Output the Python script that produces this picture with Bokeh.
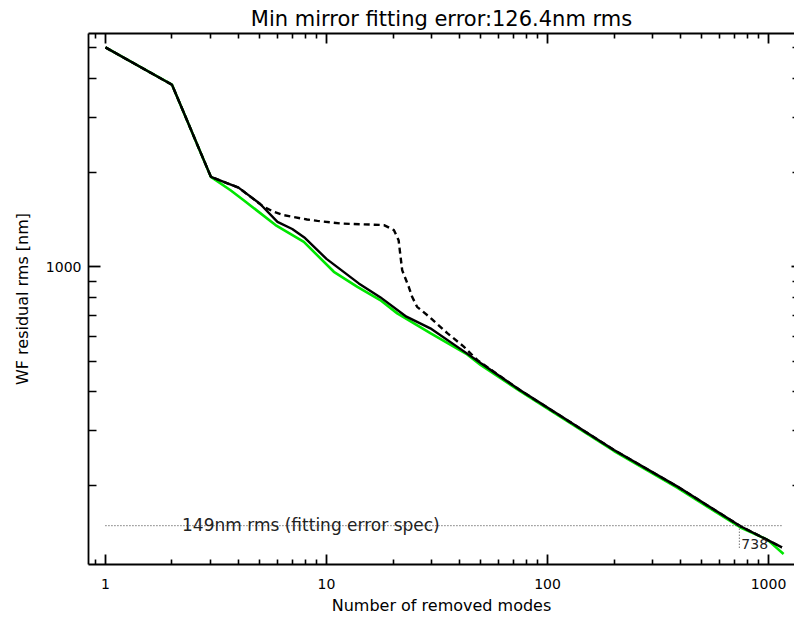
from bokeh.plotting import figure
from bokeh.models import LogAxis, FixedTicker, Range1d
from bokeh.embed import file_html
from bokeh.resources import INLINE
from bokeh.core.properties import value

# ---------------- data ----------------
modes_solid = [1, 2, 3, 4, 5, 6, 7, 8, 10, 14, 17.5, 23, 29.5, 43, 50, 75, 87, 200, 386, 747, 1150]
rms_solid = [5020, 3815, 1937, 1790, 1590, 1392, 1320, 1235, 1060, 885, 800, 693, 636, 530, 492, 404, 378, 260, 199, 148.4, 127]

modes_green = [1, 2, 3, 3.68, 4.22, 5.88, 7.9, 10.8, 13.8, 17.5, 20.9, 29.5, 43.3, 49.8, 75.5, 200, 386, 747, 987, 1170]
rms_green = [5020, 3815, 1937, 1756, 1632, 1359, 1201, 964, 863, 783, 710, 614, 525, 486, 400, 258, 197, 147, 134.5, 121]

modes_dashed = [1, 2, 3, 4, 5.2, 5.78, 6.4, 8.17, 9.1, 11.57, 18.2, 20.2, 21.2, 22.0, 23.6, 24.4, 25.7, 29.5, 35.2, 41.8, 48.1, 75, 200, 386, 747, 1150]
rms_dashed = [5020, 3815, 1937, 1790, 1554, 1498, 1462, 1416, 1402, 1375, 1359, 1309, 1216, 976, 860, 802, 745, 688, 614, 556, 504, 404, 260, 199, 148.4, 127]

spec_modes = [1, 1150]
spec_rms = [149, 149]
spec_text = ["149nm rms (fitting error spec)"]
spec_text_mode = [2.22]

cross_mode = 738
min_rms = 126.4
cross_modes = [cross_mode, cross_mode]
cross_rms = [149, min_rms]

x_major = [1, 10, 100, 1000]
x_labels = ["1", "10", "100", "1000"]
x_minor = [0.9, 2, 3, 4, 5, 6, 7, 8, 9, 20, 30, 40, 50, 60, 70, 80, 90,
           200, 300, 400, 500, 600, 700, 800, 900]
y_major = [1000]
y_labels = ["1000"]
y_minor = [200, 300, 400, 500, 600, 700, 800, 900, 2000, 3000, 4000, 5000]

title_text = "Min mirror fitting error:126.4nm rms"
x_title = "Number of removed modes"
y_title = "WF residual rms [nm]"

FONT = "DejaVu Sans"

p = figure(width=794, height=617, x_axis_type="log", y_axis_type="log",
           x_range=Range1d(0.838, 1311), y_range=Range1d(112, 5560),
           output_backend="svg", toolbar_location=None,
           min_border_left=88, min_border_right=0, min_border_top=33, min_border_bottom=52)

p.background_fill_color = "white"
p.border_fill_color = "white"
p.outline_line_color = None
p.xgrid.visible = False
p.ygrid.visible = False


def style_axis(ax, major, minor, labels, maj_len, min_len, show_labels):
    ax.ticker = FixedTicker(ticks=major, minor_ticks=minor)
    ax.major_tick_in = maj_len
    ax.major_tick_out = 0
    ax.minor_tick_in = min_len
    ax.minor_tick_out = 0
    ax.axis_line_color = "black"
    ax.axis_line_width = 1.8
    ax.major_tick_line_color = "black"
    ax.major_tick_line_width = 1.8
    ax.minor_tick_line_color = "black"
    ax.minor_tick_line_width = 1.6
    ax.major_label_overrides = dict(zip(major, labels))
    ax.major_label_text_font = FONT
    ax.major_label_text_color = "black"
    if show_labels:
        ax.major_label_text_font_size = "14px"
    else:
        ax.major_label_text_font_size = "0px"
        ax.major_label_standoff = 0
        ax.major_label_text_alpha = 0


xb = p.below[0]
style_axis(xb, x_major, x_minor, x_labels, 10, 5, True)
xb.major_label_standoff = 14
xb.axis_label = x_title
xb.axis_label_text_font = FONT
xb.axis_label_text_font_size = "16px"
xb.axis_label_text_font_style = "normal"
xb.axis_label_text_color = "black"
xb.axis_label_standoff = 4

yl = p.left[0]
style_axis(yl, y_major, y_minor, y_labels, 12, 8, True)
yl.major_label_standoff = 7
yl.axis_label = y_title
yl.axis_label_text_font = FONT
yl.axis_label_text_font_size = "16px"
yl.axis_label_text_font_style = "normal"
yl.axis_label_text_color = "black"
yl.axis_label_standoff = 11

xt = LogAxis()
style_axis(xt, x_major, x_minor, x_labels, 10, 5, False)
p.add_layout(xt, "above")

yr = LogAxis()
style_axis(yr, y_major, y_minor, y_labels, 3, 2, False)
yr.axis_line_color = None
p.add_layout(yr, "right")

p.title.text = title_text
p.title.align = "center"
p.title.text_font = FONT
p.title.text_font_size = "21px"
p.title.text_font_style = "normal"
p.title.text_color = "black"
p.title.standoff = 6

# curves
p.line(modes_green, rms_green, line_color="#00e600", line_width=2.6)
p.line(modes_dashed, rms_dashed, line_color="black", line_width=2.4, line_dash="6 4")
p.line(modes_solid, rms_solid, line_color="black", line_width=2.4)

# spec line and crossing marker
p.line(spec_modes, spec_rms, line_color="#333333", line_width=1, line_dash="1 2")
p.line(cross_modes, cross_rms, line_color="#333333", line_width=1, line_dash="1 2")
p.text(x=spec_text_mode, y=[spec_rms[0]], text=spec_text, text_font=value(FONT),
       text_font_size="17px", text_color="#222222", text_baseline="alphabetic", y_offset=-1)
p.text(x=[cross_mode], y=[min_rms], text=[str(cross_mode)], text_font=value(FONT),
       text_font_size="14px", text_color="#222222", text_baseline="alphabetic",
       x_offset=2, y_offset=-4)

open("out.html", "w").write(file_html(p, INLINE))
